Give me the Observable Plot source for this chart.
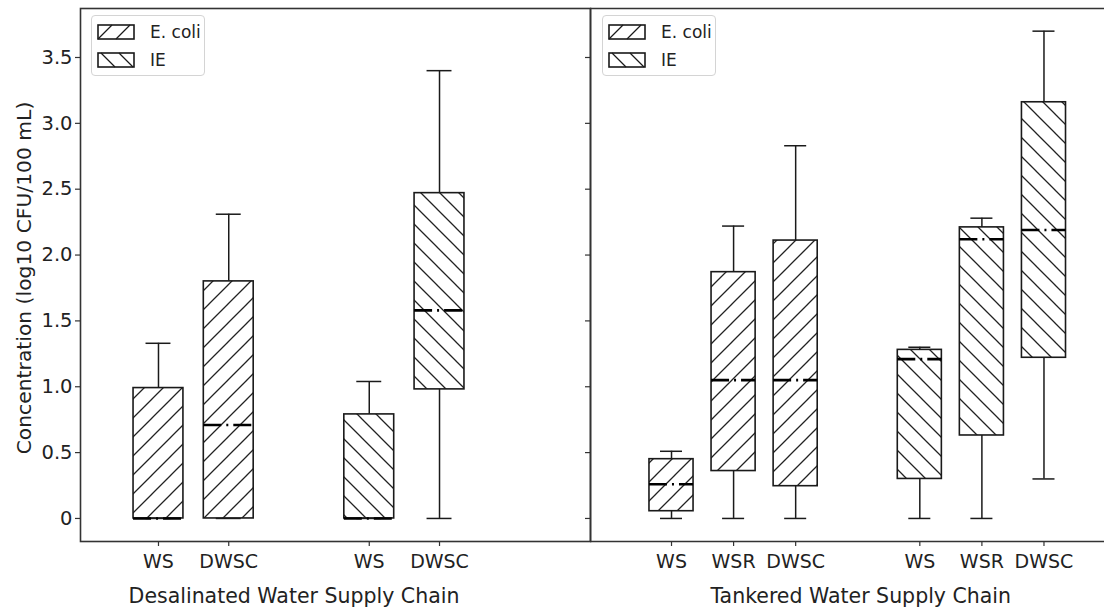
<!DOCTYPE html>
<html>
<head>
<meta charset="utf-8">
<script src="https://cdn.jsdelivr.net/npm/d3@7"></script>
<script src="https://cdn.jsdelivr.net/npm/@observablehq/plot@0.6"></script>
<style>
  body { margin: 0; background: #fff; font-family: "DejaVu Sans", sans-serif; }
  #chart { position: relative; width: 1104px; height: 612px; overflow: hidden; background: #fff; }
  #chart svg.panel { position: absolute; top: 0; }
  .legend { position: absolute; top: 15px; width: 114px; height: 61px; box-sizing: border-box;
            border: 1px solid #d4d4d4; border-radius: 4px; background: rgba(255,255,255,0.85);
            font-size: 17px; color: #222; }
  .legend .row { position: absolute; left: 5px; height: 16px; display: flex; align-items: center; }
  .legend .row svg { margin-right: 15px; }
</style>
</head>
<body>
<div id="chart"></div>
<script>
// Indicators and sampling points
const indicators = ["E. coli", "IE"];
const chains = ["Desalinated Water Supply Chain", "Tankered Water Supply Chain"];
const desalSites = ["WS", "DWSC"];
const tankerSites = ["WS", "WSR", "DWSC"];

// Box statistics per site: [lower whisker, Q1, median, Q3, upper whisker], log10 CFU/100 mL
const desalEcoli  = [[0, 0, 0, 0.99, 1.33], [0, 0, 0.71, 1.80, 2.31]];
const desalIE     = [[0, 0, 0, 0.79, 1.04], [0, 0.98, 1.58, 2.47, 3.40]];
const tankerEcoli = [[0, 0.055, 0.26, 0.45, 0.51], [0, 0.36, 1.05, 1.87, 2.22], [0, 0.245, 1.05, 2.11, 2.83]];
const tankerIE    = [[0, 0.30, 1.21, 1.28, 1.30], [0, 0.63, 2.12, 2.21, 2.28], [0.30, 1.22, 2.19, 3.16, 3.70]];

const yTicks = [0, 0.5, 1, 1.5, 2, 2.5, 3, 3.5];
const yLabel = "Concentration (log10 CFU/100 mL)";

const ink = "#1a1a1a";
const hatchId = {"E. coli": "hatch-fwd", "IE": "hatch-back"};

// Flatten into one row per box; each indicator group gets its own slots with a blank slot between groups
function boxRows(sites, series) {
  const rows = [];
  series.forEach((stats, g) => stats.forEach(([lo, q1, med, q3, hi], i) => {
    rows.push({indicator: indicators[g], site: sites[i], pos: g * (sites.length + 1) + i + 1, lo, q1, med, q3, hi});
  }));
  return rows;
}

// Diagonal hatch patterns in user space
function hatchDefs() {
  const defs = d3.create("svg:defs");
  const s = 19;
  const add = (id, d) => {
    const p = defs.append("pattern").attr("id", id).attr("patternUnits", "userSpaceOnUse")
      .attr("width", s).attr("height", s);
    p.append("path").attr("d", d).attr("stroke", "#222").attr("stroke-width", 1.3).attr("fill", "none");
  };
  add("hatch-fwd", `M-5,5L5,-5M0,${s}L${s},0M${s - 5},${s + 5}L${s + 5},${s - 5}`);
  add("hatch-back", `M-5,${s - 5}L5,${s + 5}M0,0L${s},${s}M${s - 5},-5L${s + 5},5`);
  return defs.node();
}

function panel({rows, chain, xDomain, width, marginLeft, left, showYText, fullFrame, labelShift}) {
  const half = 0.355, cap = half / 2;
  const siteAt = new Map(rows.map(d => [d.pos, d.site]));
  const yDomain = [-0.175, 3.872];
  const positions = rows.map(d => d.pos);
  const mid = (d3.min(positions) + d3.max(positions)) / 2;
  const marks = [
    hatchDefs,
    ...indicators.map(ind => Plot.rect(rows.filter(d => d.indicator === ind), {
      x1: d => d.pos - half, x2: d => d.pos + half, y1: "q1", y2: "q3",
      fill: `url(#${hatchId[ind]})`, stroke: ink, strokeWidth: 1.6
    })),
    Plot.ruleX(rows, {x: "pos", y1: "q3", y2: "hi", stroke: ink, strokeWidth: 1.5}),
    Plot.ruleX(rows, {x: "pos", y1: "lo", y2: "q1", stroke: ink, strokeWidth: 1.5}),
    Plot.ruleY(rows, {y: "hi", x1: d => d.pos - cap, x2: d => d.pos + cap, stroke: ink, strokeWidth: 1.5}),
    Plot.ruleY(rows, {y: "lo", x1: d => d.pos - cap, x2: d => d.pos + cap, stroke: ink, strokeWidth: 1.5}),
    Plot.ruleY(rows, {y: "med", x1: d => d.pos - half, x2: d => d.pos + half, stroke: "#000",
      strokeWidth: 2.6, strokeDasharray: "18,5,2,5"}),
    Plot.axisX(positions, {tickSize: 5, tickPadding: 8, tickFormat: p => siteAt.get(p), label: null,
      fontSize: 19, stroke: "#333", strokeWidth: 1.2}),
    Plot.axisY(yTicks, {tickSize: 5, tickPadding: 3, fontSize: 19.5, stroke: "#333", strokeWidth: 1.2, label: null,
      tickFormat: showYText ? (d => d === 0 ? "0" : d.toFixed(1)) : () => ""}),
    Plot.text([chain], {x: mid, frameAnchor: "bottom", dy: 61, dx: labelShift, fontSize: 20.5, fill: "#222"}),
    fullFrame
      ? Plot.frame({stroke: "#333", strokeWidth: 1.6})
      : Plot.ruleX([xDomain[0]], {stroke: "#333", strokeWidth: 1.6}),
    fullFrame ? null : Plot.ruleY(yDomain, {stroke: "#333", strokeWidth: 1.6})
  ];
  if (showYText) {
    marks.push(Plot.text([yLabel], {frameAnchor: "left", textAnchor: "middle", dx: -56, dy: 3, rotate: -90,
      fontSize: 20.3, fill: "#222"}));
  }
  const svg = Plot.plot({
    width, height: 612,
    marginTop: 8, marginBottom: 71, marginLeft, marginRight: 0,
    x: {type: "linear", domain: xDomain, axis: null},
    y: {domain: yDomain, axis: null},
    style: {fontFamily: "DejaVu Sans, sans-serif", color: "#222", background: "transparent", overflow: "visible"},
    marks: marks.filter(Boolean)
  });
  svg.classList.add("panel");
  svg.style.left = left + "px";
  return svg;
}

function legend(left) {
  const box = document.createElement("div");
  box.className = "legend";
  box.style.left = left + "px";
  indicators.forEach((ind, i) => {
    const row = document.createElement("div");
    row.className = "row";
    row.style.top = (8 + i * 28) + "px";
    const sw = d3.create("svg").attr("width", 38).attr("height", 16);
    const g = sw.append("g").attr("stroke", ink).attr("fill", "none");
    g.append("rect").attr("x", 1).attr("y", 1).attr("width", 36).attr("height", 14).attr("stroke-width", 1.6);
    const lines = ind === "E. coli"
      ? [[1, 15, 15, 1], [19, 15, 33, 1]]
      : [[4, 1, 18, 15], [22, 1, 36, 15]];
    lines.forEach(([x1, y1, x2, y2]) => g.append("line").attr("x1", x1).attr("y1", y1)
      .attr("x2", x2).attr("y2", y2).attr("stroke-width", 1.2));
    row.appendChild(sw.node());
    const t = document.createElement("span");
    t.textContent = ind;
    row.appendChild(t);
    box.appendChild(row);
  });
  return box;
}

const chart = document.getElementById("chart");
chart.appendChild(panel({
  rows: boxRows(desalSites, [desalEcoli, desalIE]), chain: chains[0],
  xDomain: [-0.110, 7.149], width: 590, marginLeft: 80, left: 0, showYText: true, fullFrame: true, labelShift: -5
}));
chart.appendChild(panel({
  rows: boxRows(tankerSites, [tankerEcoli, tankerIE]), chain: chains[1],
  xDomain: [-0.305, 7.975], width: 524, marginLeft: 10, left: 580, showYText: false, fullFrame: false, labelShift: 3
}));
chart.appendChild(legend(91));
chart.appendChild(legend(602));
</script>
</body>
</html>
